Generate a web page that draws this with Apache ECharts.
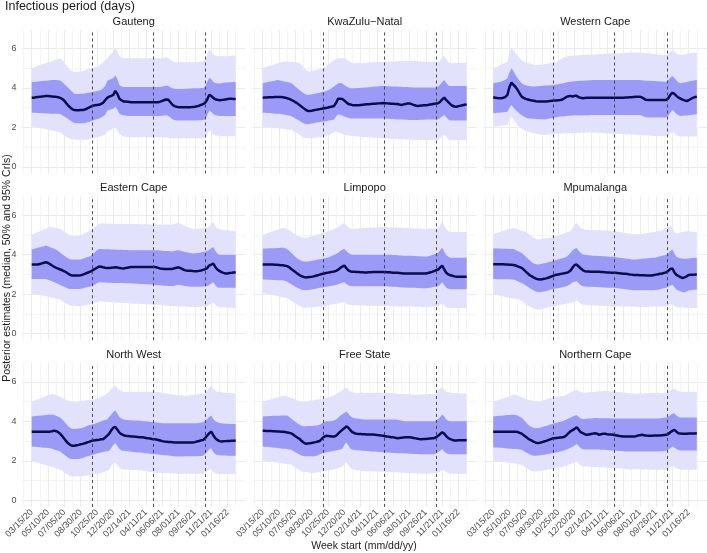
<!DOCTYPE html>
<html>
<head>
<meta charset="utf-8">
<title>Infectious period (days)</title>
<script src="https://cdn.jsdelivr.net/npm/echarts@6/dist/echarts.min.js"></script>
<style>
  html, body { margin: 0; padding: 0; background: #ffffff; }
  #chart { width: 707px; height: 553px; }
</style>
</head>
<body>
<div id="chart"></div>
<script>
// weekly estimates, week 0 = 03/15/20
const weekTicks = [0, 8, 16, 24, 32, 40, 48, 56, 64, 72, 80, 88, 96];
const tickLabels = ['03/15/20', '05/10/20', '07/05/20', '08/30/20', '10/25/20', '12/20/20', '02/14/21',
    '04/11/21', '06/06/21', '08/01/21', '09/26/21', '11/21/21', '01/16/22'];
const weekMinor = [-4, 4, 12, 20, 28, 36, 44, 52, 60, 68, 76, 84, 92, 100];
const waveBreaks = [29.7, 59.5, 85.3];
const yTicks = [0, 2, 4, 6];
const yMinor = [1, 3, 5];

// Gauteng
const gauMed = [3.50,3.51,3.53,3.54,3.55,3.57,3.58,3.60,3.59,3.58,
    3.57,3.56,3.55,3.53,3.50,3.44,3.35,3.22,3.10,3.00,
    2.92,2.88,2.87,2.87,2.88,2.88,2.91,2.95,3.00,3.05,
    3.10,3.12,3.14,3.15,3.20,3.25,3.38,3.50,3.56,3.60,
    3.65,3.85,3.70,3.45,3.38,3.32,3.31,3.30,3.29,3.28,
    3.28,3.28,3.28,3.28,3.28,3.28,3.28,3.28,3.28,3.28,
    3.28,3.28,3.28,3.31,3.35,3.39,3.42,3.40,3.28,3.15,
    3.08,3.05,3.03,3.03,3.03,3.03,3.03,3.03,3.03,3.04,
    3.05,3.07,3.10,3.14,3.18,3.25,3.40,3.65,3.60,3.50,
    3.43,3.40,3.38,3.39,3.40,3.42,3.44,3.45,3.45,3.44,
    3.44];
const gauHi50 = [4.30,4.31,4.32,4.33,4.34,4.35,4.36,4.37,4.38,4.39,
    4.40,4.40,4.40,4.39,4.38,4.30,4.20,4.10,4.00,3.90,
    3.80,3.70,3.70,3.70,3.71,3.71,3.72,3.74,3.76,3.78,
    3.80,3.82,3.85,3.87,3.90,3.98,4.10,4.35,4.42,4.46,
    4.50,4.65,4.45,4.15,4.08,4.05,4.05,4.05,4.05,4.05,
    4.05,4.05,4.05,4.05,4.05,4.05,4.05,4.05,4.05,4.05,
    4.05,4.05,4.05,4.05,4.07,4.10,4.12,4.10,4.04,3.98,
    3.96,3.95,3.95,3.95,3.95,3.96,3.96,3.97,3.97,3.98,
    3.98,3.99,3.99,4.00,4.00,4.05,4.30,4.50,4.45,4.30,
    4.25,4.23,4.22,4.24,4.26,4.28,4.28,4.29,4.29,4.30,
    4.30];
const gauLo50 = [2.75,2.74,2.74,2.73,2.73,2.72,2.72,2.71,2.71,2.70,
    2.70,2.70,2.69,2.69,2.68,2.62,2.55,2.48,2.42,2.35,
    2.28,2.22,2.22,2.22,2.22,2.22,2.22,2.25,2.28,2.31,
    2.35,2.39,2.42,2.46,2.50,2.57,2.65,2.85,2.88,2.92,
    2.95,3.05,2.90,2.70,2.65,2.62,2.60,2.58,2.58,2.58,
    2.58,2.58,2.58,2.58,2.58,2.58,2.58,2.58,2.58,2.58,
    2.58,2.58,2.58,2.58,2.59,2.60,2.62,2.58,2.50,2.42,
    2.38,2.35,2.35,2.35,2.35,2.35,2.35,2.35,2.35,2.35,
    2.35,2.35,2.36,2.37,2.38,2.42,2.60,2.85,2.80,2.68,
    2.62,2.60,2.58,2.58,2.58,2.58,2.58,2.58,2.58,2.58,
    2.58];
const gauHi95 = [5.00,5.04,5.08,5.12,5.16,5.20,5.23,5.26,5.29,5.32,
    5.35,5.39,5.43,5.47,5.50,5.42,5.30,5.15,5.02,4.90,
    4.85,4.80,4.81,4.82,4.84,4.85,4.89,4.93,4.96,5.00,
    5.02,5.05,5.08,5.10,5.20,5.30,5.40,5.50,5.62,5.74,
    5.85,6.05,5.85,5.60,5.55,5.50,5.50,5.50,5.50,5.50,
    5.50,5.50,5.50,5.50,5.50,5.50,5.50,5.50,5.50,5.50,
    5.50,5.50,5.50,5.50,5.52,5.54,5.55,5.50,5.42,5.35,
    5.32,5.30,5.30,5.30,5.30,5.30,5.30,5.30,5.30,5.30,
    5.30,5.31,5.32,5.33,5.35,5.40,5.70,5.95,5.85,5.70,
    5.65,5.60,5.60,5.60,5.60,5.60,5.61,5.62,5.63,5.64,
    5.65];
const gauLo95 = [2.05,2.03,2.01,1.99,1.97,1.95,1.93,1.91,1.89,1.87,
    1.85,1.83,1.80,1.78,1.75,1.68,1.60,1.53,1.47,1.42,
    1.40,1.38,1.38,1.38,1.38,1.38,1.38,1.38,1.40,1.43,
    1.45,1.47,1.50,1.52,1.55,1.60,1.65,1.80,1.85,1.90,
    1.95,2.00,1.85,1.68,1.60,1.55,1.52,1.50,1.50,1.50,
    1.50,1.50,1.50,1.50,1.50,1.50,1.50,1.50,1.50,1.50,
    1.50,1.50,1.50,1.50,1.50,1.50,1.50,1.48,1.46,1.45,
    1.45,1.45,1.45,1.45,1.45,1.45,1.45,1.45,1.45,1.45,
    1.45,1.45,1.45,1.45,1.45,1.50,1.65,1.85,1.80,1.65,
    1.60,1.58,1.57,1.56,1.56,1.55,1.55,1.55,1.55,1.55,
    1.55];

// KwaZulu-Natal
const kznMed = [3.51,3.52,3.52,3.53,3.53,3.53,3.54,3.54,3.54,3.54,
    3.53,3.51,3.48,3.45,3.40,3.35,3.28,3.22,3.14,3.06,
    2.98,2.90,2.84,2.84,2.85,2.87,2.89,2.91,2.93,2.95,
    2.97,2.99,3.01,3.04,3.06,3.09,3.25,3.46,3.46,3.44,
    3.36,3.28,3.19,3.16,3.13,3.12,3.12,3.13,3.14,3.15,
    3.16,3.17,3.18,3.19,3.20,3.20,3.21,3.22,3.23,3.24,
    3.23,3.22,3.21,3.20,3.20,3.19,3.19,3.16,3.14,3.17,
    3.19,3.21,3.22,3.18,3.14,3.11,3.09,3.10,3.11,3.12,
    3.13,3.14,3.16,3.18,3.20,3.21,3.23,3.30,3.42,3.51,
    3.38,3.28,3.18,3.10,3.06,3.05,3.08,3.10,3.13,3.15,
    3.17];
const kznHi50 = [4.24,4.27,4.29,4.31,4.33,4.35,4.37,4.40,4.39,4.37,
    4.34,4.32,4.30,4.28,4.25,4.18,4.08,3.98,3.90,3.82,
    3.75,3.68,3.65,3.66,3.68,3.70,3.72,3.74,3.76,3.79,
    3.81,3.84,3.88,3.93,4.00,4.08,4.16,4.23,4.27,4.22,
    4.15,4.08,4.02,3.98,3.99,3.99,4.00,4.00,4.01,4.01,
    4.02,4.03,4.04,4.05,4.06,4.07,4.08,4.09,4.10,4.10,
    4.10,4.09,4.09,4.08,4.08,4.07,4.07,4.06,4.06,4.05,
    4.05,4.05,4.04,4.04,4.03,4.03,4.03,4.03,4.03,4.03,
    4.03,4.03,4.03,4.03,4.03,4.03,4.08,4.18,4.30,4.40,
    4.25,4.12,4.10,4.10,4.10,4.10,4.10,4.10,4.10,4.10,
    4.10];
const kznLo50 = [2.75,2.74,2.73,2.73,2.72,2.71,2.70,2.70,2.69,2.68,
    2.66,2.64,2.62,2.60,2.57,2.52,2.46,2.40,2.34,2.28,
    2.22,2.18,2.16,2.18,2.20,2.22,2.24,2.26,2.27,2.29,
    2.30,2.32,2.34,2.36,2.38,2.41,2.55,2.67,2.64,2.60,
    2.56,2.52,2.49,2.46,2.46,2.46,2.46,2.46,2.46,2.46,
    2.46,2.46,2.46,2.45,2.45,2.45,2.45,2.45,2.45,2.45,
    2.45,2.44,2.44,2.43,2.43,2.42,2.41,2.41,2.40,2.40,
    2.39,2.39,2.38,2.38,2.38,2.38,2.38,2.39,2.39,2.39,
    2.40,2.40,2.40,2.40,2.41,2.41,2.42,2.48,2.56,2.63,
    2.50,2.40,2.35,2.35,2.35,2.35,2.35,2.35,2.35,2.35,
    2.35];
const kznHi95 = [5.00,5.04,5.08,5.11,5.15,5.18,5.21,5.24,5.27,5.30,
    5.33,5.33,5.33,5.33,5.32,5.31,5.30,5.29,5.27,5.18,
    5.05,4.92,4.85,4.84,4.86,4.89,4.91,4.94,4.97,5.00,
    5.03,5.10,5.18,5.26,5.34,5.42,5.48,5.50,5.50,5.50,
    5.50,5.45,5.38,5.32,5.27,5.25,5.26,5.26,5.27,5.27,
    5.28,5.28,5.29,5.29,5.30,5.30,5.31,5.31,5.32,5.33,
    5.33,5.33,5.34,5.34,5.34,5.35,5.35,5.35,5.36,5.36,
    5.36,5.37,5.37,5.37,5.36,5.36,5.35,5.35,5.34,5.34,
    5.33,5.33,5.32,5.32,5.31,5.31,5.30,5.40,5.52,5.62,
    5.45,5.30,5.25,5.25,5.26,5.26,5.27,5.27,5.28,5.28,
    5.28];
const kznLo95 = [2.04,2.03,2.02,2.01,2.00,1.99,1.97,1.96,1.95,1.94,
    1.93,1.92,1.90,1.89,1.87,1.82,1.76,1.70,1.63,1.56,
    1.50,1.47,1.45,1.46,1.47,1.48,1.49,1.50,1.51,1.52,
    1.54,1.57,1.61,1.65,1.70,1.75,1.79,1.76,1.72,1.67,
    1.63,1.61,1.59,1.58,1.57,1.56,1.54,1.54,1.53,1.52,
    1.52,1.51,1.50,1.50,1.49,1.48,1.48,1.47,1.46,1.45,
    1.45,1.44,1.44,1.43,1.42,1.42,1.41,1.41,1.40,1.40,
    1.39,1.39,1.38,1.38,1.37,1.37,1.37,1.37,1.37,1.37,
    1.37,1.37,1.37,1.37,1.37,1.37,1.38,1.45,1.55,1.62,
    1.50,1.40,1.37,1.37,1.37,1.37,1.37,1.37,1.37,1.37,
    1.37];

// Western Cape
const wcMed = [3.53,3.51,3.49,3.48,3.48,3.50,3.55,3.65,4.05,4.27,
    4.15,4.05,3.90,3.72,3.56,3.50,3.45,3.42,3.39,3.37,
    3.35,3.33,3.32,3.31,3.31,3.31,3.32,3.33,3.34,3.35,
    3.36,3.37,3.38,3.39,3.42,3.48,3.55,3.58,3.60,3.56,
    3.60,3.60,3.53,3.50,3.48,3.49,3.50,3.50,3.51,3.51,
    3.51,3.51,3.51,3.51,3.51,3.51,3.51,3.51,3.51,3.51,
    3.51,3.51,3.51,3.51,3.51,3.52,3.52,3.53,3.53,3.54,
    3.55,3.55,3.56,3.52,3.46,3.40,3.39,3.39,3.39,3.39,
    3.39,3.39,3.39,3.39,3.39,3.39,3.48,3.65,3.76,3.70,
    3.60,3.51,3.46,3.41,3.37,3.34,3.38,3.44,3.50,3.54,
    3.56];
const wcHi50 = [4.24,4.26,4.28,4.30,4.33,4.37,4.42,4.49,4.80,5.00,
    4.85,4.66,4.50,4.35,4.24,4.18,4.14,4.11,4.09,4.08,
    4.07,4.08,4.09,4.10,4.11,4.12,4.13,4.13,4.14,4.14,
    4.15,4.17,4.19,4.21,4.23,4.25,4.28,4.30,4.32,4.33,
    4.34,4.35,4.36,4.36,4.37,4.38,4.38,4.39,4.39,4.40,
    4.40,4.40,4.40,4.40,4.40,4.40,4.40,4.40,4.40,4.40,
    4.40,4.40,4.40,4.40,4.40,4.40,4.40,4.40,4.40,4.40,
    4.40,4.40,4.40,4.39,4.38,4.37,4.36,4.36,4.35,4.35,
    4.34,4.34,4.33,4.33,4.32,4.32,4.40,4.52,4.61,4.50,
    4.38,4.28,4.24,4.26,4.28,4.30,4.33,4.35,4.37,4.39,
    4.40];
const wcLo50 = [2.72,2.73,2.74,2.75,2.76,2.77,2.78,2.80,3.00,3.14,
    3.00,2.88,2.80,2.70,2.62,2.55,2.50,2.46,2.45,2.44,
    2.44,2.43,2.43,2.42,2.42,2.41,2.42,2.44,2.46,2.48,
    2.50,2.52,2.54,2.55,2.56,2.57,2.58,2.59,2.59,2.60,
    2.60,2.60,2.61,2.61,2.61,2.62,2.62,2.62,2.63,2.63,
    2.63,2.63,2.63,2.63,2.63,2.63,2.63,2.63,2.63,2.63,
    2.63,2.63,2.63,2.63,2.63,2.63,2.63,2.63,2.63,2.63,
    2.63,2.63,2.63,2.60,2.56,2.52,2.51,2.51,2.51,2.51,
    2.51,2.51,2.51,2.51,2.51,2.51,2.60,2.75,2.89,2.80,
    2.68,2.62,2.58,2.59,2.60,2.61,2.62,2.63,2.65,2.66,
    2.67];
const wcHi95 = [5.00,5.04,5.09,5.14,5.19,5.24,5.28,5.33,5.75,6.04,
    5.90,5.76,5.62,5.50,5.40,5.33,5.30,5.27,5.24,5.21,
    5.18,5.16,5.16,5.17,5.19,5.20,5.22,5.24,5.25,5.27,
    5.28,5.33,5.38,5.44,5.50,5.55,5.59,5.61,5.62,5.63,
    5.64,5.65,5.66,5.67,5.67,5.68,5.68,5.69,5.69,5.70,
    5.70,5.71,5.71,5.72,5.72,5.73,5.73,5.74,5.74,5.75,
    5.75,5.76,5.76,5.77,5.77,5.78,5.78,5.78,5.79,5.79,
    5.79,5.79,5.79,5.78,5.77,5.76,5.75,5.74,5.73,5.72,
    5.71,5.70,5.69,5.68,5.67,5.67,5.75,5.85,5.92,5.85,
    5.75,5.70,5.67,5.68,5.70,5.72,5.74,5.76,5.77,5.78,
    5.79];
const wcLo95 = [2.04,2.05,2.06,2.08,2.09,2.10,2.11,2.13,2.40,2.55,
    2.40,2.25,2.13,2.02,1.95,1.88,1.82,1.79,1.76,1.73,
    1.71,1.69,1.67,1.65,1.64,1.62,1.63,1.64,1.65,1.66,
    1.67,1.68,1.69,1.70,1.70,1.71,1.71,1.71,1.72,1.72,
    1.72,1.72,1.73,1.73,1.73,1.73,1.74,1.74,1.74,1.74,
    1.74,1.73,1.73,1.72,1.71,1.71,1.70,1.69,1.69,1.68,
    1.68,1.67,1.67,1.66,1.66,1.65,1.65,1.64,1.64,1.63,
    1.63,1.62,1.62,1.61,1.60,1.60,1.59,1.58,1.58,1.57,
    1.57,1.56,1.56,1.55,1.55,1.54,1.58,1.70,1.79,1.70,
    1.62,1.56,1.54,1.54,1.54,1.54,1.54,1.54,1.54,1.54,
    1.54];

// Eastern Cape
const ecMed = [3.50,3.50,3.50,3.50,3.53,3.56,3.59,3.62,3.58,3.52,
    3.45,3.39,3.33,3.29,3.25,3.21,3.16,3.10,3.03,2.97,
    2.94,2.94,2.94,2.94,2.96,2.99,3.03,3.07,3.11,3.15,
    3.22,3.28,3.34,3.40,3.39,3.36,3.34,3.33,3.33,3.34,
    3.35,3.36,3.35,3.33,3.31,3.30,3.32,3.34,3.36,3.37,
    3.38,3.38,3.38,3.38,3.38,3.38,3.38,3.38,3.38,3.38,
    3.38,3.36,3.33,3.30,3.29,3.28,3.28,3.28,3.28,3.28,
    3.31,3.34,3.36,3.32,3.26,3.22,3.19,3.18,3.18,3.17,
    3.16,3.16,3.18,3.20,3.23,3.26,3.32,3.45,3.50,3.55,
    3.38,3.25,3.18,3.12,3.08,3.05,3.05,3.07,3.08,3.10,
    3.11];
const ecHi50 = [4.26,4.29,4.32,4.35,4.37,4.40,4.43,4.46,4.43,4.38,
    4.34,4.30,4.26,4.18,4.10,4.02,3.95,3.87,3.80,3.75,
    3.75,3.75,3.75,3.75,3.76,3.79,3.83,3.87,3.90,3.94,
    4.02,4.12,4.22,4.29,4.29,4.28,4.28,4.27,4.27,4.26,
    4.26,4.26,4.25,4.25,4.25,4.24,4.24,4.24,4.23,4.23,
    4.23,4.23,4.23,4.23,4.23,4.23,4.23,4.23,4.23,4.23,
    4.23,4.22,4.22,4.21,4.20,4.19,4.19,4.18,4.17,4.16,
    4.18,4.21,4.23,4.20,4.17,4.14,4.12,4.10,4.08,4.06,
    4.07,4.08,4.09,4.11,4.13,4.15,4.18,4.25,4.32,4.39,
    4.20,4.05,4.00,4.00,4.00,4.00,4.00,4.00,4.00,4.00,
    4.00];
const ecLo50 = [2.77,2.77,2.77,2.77,2.77,2.77,2.77,2.77,2.73,2.69,
    2.65,2.61,2.57,2.52,2.47,2.42,2.37,2.32,2.28,2.26,
    2.26,2.26,2.26,2.26,2.27,2.29,2.32,2.35,2.37,2.39,
    2.43,2.49,2.55,2.60,2.60,2.59,2.59,2.58,2.58,2.58,
    2.57,2.57,2.57,2.56,2.56,2.56,2.55,2.55,2.55,2.54,
    2.54,2.53,2.53,2.52,2.51,2.51,2.50,2.50,2.49,2.49,
    2.48,2.47,2.46,2.45,2.44,2.43,2.43,2.42,2.41,2.40,
    2.43,2.46,2.48,2.46,2.44,2.42,2.40,2.39,2.38,2.37,
    2.37,2.37,2.38,2.38,2.39,2.39,2.41,2.47,2.54,2.60,
    2.45,2.35,2.32,2.32,2.32,2.32,2.32,2.32,2.32,2.32,
    2.32];
const ecHi95 = [5.02,5.06,5.11,5.15,5.19,5.24,5.28,5.32,5.37,5.41,
    5.39,5.37,5.35,5.33,5.31,5.24,5.17,5.10,5.03,4.98,
    4.97,4.97,4.97,4.97,4.99,5.04,5.09,5.15,5.20,5.25,
    5.32,5.40,5.48,5.56,5.58,5.58,5.58,5.57,5.57,5.57,
    5.57,5.57,5.56,5.56,5.56,5.56,5.56,5.55,5.55,5.55,
    5.55,5.55,5.55,5.54,5.54,5.54,5.54,5.54,5.53,5.53,
    5.53,5.53,5.53,5.53,5.53,5.53,5.53,5.53,5.53,5.53,
    5.56,5.59,5.61,5.56,5.51,5.46,5.41,5.37,5.34,5.31,
    5.31,5.32,5.32,5.33,5.34,5.35,5.37,5.45,5.55,5.64,
    5.45,5.32,5.27,5.26,5.25,5.24,5.23,5.22,5.21,5.20,
    5.19];
const ecLo95 = [2.03,2.01,1.99,1.97,1.95,1.93,1.92,1.90,1.88,1.86,
    1.83,1.81,1.78,1.75,1.72,1.66,1.59,1.52,1.46,1.42,
    1.41,1.41,1.40,1.40,1.39,1.41,1.44,1.46,1.48,1.51,
    1.54,1.57,1.60,1.63,1.64,1.63,1.62,1.61,1.60,1.59,
    1.58,1.57,1.57,1.56,1.56,1.55,1.55,1.54,1.53,1.53,
    1.52,1.52,1.51,1.51,1.50,1.50,1.49,1.49,1.48,1.48,
    1.47,1.46,1.45,1.45,1.44,1.43,1.42,1.41,1.40,1.39,
    1.39,1.39,1.38,1.38,1.37,1.37,1.36,1.36,1.35,1.35,
    1.35,1.35,1.36,1.36,1.37,1.38,1.40,1.46,1.53,1.59,
    1.45,1.37,1.35,1.34,1.34,1.33,1.32,1.31,1.31,1.30,
    1.30];

// Limpopo
const limMed = [3.50,3.50,3.50,3.50,3.50,3.50,3.49,3.49,3.48,3.47,
    3.46,3.44,3.42,3.36,3.28,3.20,3.12,3.04,2.97,2.92,
    2.87,2.85,2.86,2.87,2.88,2.90,2.93,2.96,2.99,3.02,
    3.05,3.07,3.09,3.11,3.13,3.15,3.18,3.24,3.32,3.40,
    3.45,3.32,3.20,3.15,3.14,3.13,3.12,3.12,3.11,3.11,
    3.10,3.10,3.11,3.11,3.12,3.12,3.12,3.12,3.12,3.12,
    3.12,3.11,3.11,3.10,3.09,3.08,3.08,3.07,3.06,3.05,
    3.05,3.05,3.05,3.05,3.05,3.05,3.05,3.05,3.05,3.05,
    3.05,3.07,3.10,3.13,3.17,3.21,3.25,3.35,3.45,3.25,
    3.08,3.00,2.96,2.93,2.90,2.88,2.88,2.88,2.88,2.88,
    2.88];
const limHi50 = [4.30,4.31,4.31,4.32,4.32,4.33,4.33,4.34,4.34,4.35,
    4.35,4.32,4.28,4.20,4.10,4.00,3.90,3.81,3.74,3.69,
    3.66,3.65,3.66,3.67,3.69,3.71,3.73,3.75,3.77,3.78,
    3.80,3.83,3.86,3.90,3.94,3.98,4.04,4.10,4.18,4.25,
    4.30,4.18,4.08,4.02,4.00,4.00,4.00,4.00,4.00,4.00,
    4.00,4.00,4.00,4.00,4.00,4.00,4.00,4.00,4.00,4.00,
    4.00,4.00,3.99,3.99,3.98,3.98,3.97,3.96,3.96,3.95,
    3.95,3.95,3.94,3.94,3.93,3.93,3.92,3.92,3.91,3.91,
    3.90,3.92,3.95,3.98,4.02,4.06,4.10,4.22,4.35,4.15,
    3.98,3.90,3.85,3.85,3.85,3.85,3.85,3.85,3.85,3.85,
    3.85];
const limLo50 = [2.75,2.74,2.74,2.73,2.73,2.72,2.72,2.71,2.71,2.70,
    2.70,2.67,2.63,2.57,2.50,2.44,2.38,2.32,2.27,2.23,
    2.21,2.20,2.21,2.22,2.24,2.26,2.28,2.30,2.32,2.33,
    2.35,2.37,2.39,2.41,2.43,2.45,2.47,2.50,2.55,2.58,
    2.60,2.52,2.45,2.41,2.40,2.40,2.40,2.40,2.40,2.40,
    2.40,2.40,2.40,2.40,2.40,2.40,2.40,2.40,2.40,2.40,
    2.40,2.40,2.39,2.38,2.38,2.37,2.36,2.35,2.35,2.34,
    2.34,2.33,2.33,2.32,2.32,2.32,2.31,2.31,2.30,2.30,
    2.30,2.31,2.33,2.35,2.37,2.38,2.40,2.50,2.60,2.45,
    2.33,2.27,2.25,2.25,2.25,2.25,2.25,2.25,2.25,2.25,
    2.25];
const limHi95 = [5.00,5.04,5.08,5.11,5.15,5.18,5.22,5.26,5.29,5.32,
    5.35,5.33,5.30,5.24,5.17,5.10,5.03,4.97,4.92,4.88,
    4.86,4.85,4.87,4.90,4.93,4.96,4.99,5.02,5.05,5.08,
    5.10,5.14,5.18,5.22,5.26,5.30,5.35,5.41,5.48,5.55,
    5.60,5.48,5.38,5.32,5.30,5.31,5.32,5.33,5.34,5.35,
    5.35,5.36,5.36,5.37,5.37,5.38,5.38,5.39,5.39,5.40,
    5.40,5.40,5.39,5.39,5.38,5.38,5.37,5.37,5.36,5.36,
    5.35,5.35,5.34,5.34,5.33,5.33,5.32,5.32,5.31,5.31,
    5.30,5.31,5.32,5.33,5.33,5.34,5.35,5.52,5.70,5.45,
    5.28,5.20,5.15,5.15,5.15,5.15,5.15,5.15,5.15,5.15,
    5.15];
const limLo95 = [2.05,2.03,2.01,1.99,1.97,1.95,1.93,1.91,1.88,1.86,
    1.84,1.82,1.80,1.73,1.66,1.59,1.52,1.46,1.40,1.35,
    1.32,1.30,1.31,1.32,1.33,1.34,1.35,1.36,1.37,1.38,
    1.40,1.42,1.44,1.46,1.48,1.50,1.52,1.54,1.56,1.58,
    1.60,1.52,1.47,1.45,1.45,1.44,1.44,1.44,1.43,1.43,
    1.43,1.42,1.42,1.42,1.42,1.41,1.41,1.41,1.40,1.40,
    1.40,1.40,1.40,1.39,1.39,1.39,1.38,1.38,1.38,1.38,
    1.37,1.37,1.37,1.37,1.36,1.36,1.36,1.36,1.35,1.35,
    1.35,1.35,1.36,1.36,1.37,1.37,1.38,1.46,1.55,1.42,
    1.34,1.31,1.30,1.30,1.30,1.30,1.30,1.30,1.30,1.30,
    1.30];

// Mpumalanga
const mpuMed = [3.52,3.52,3.52,3.51,3.51,3.51,3.50,3.50,3.49,3.49,
    3.48,3.45,3.41,3.37,3.33,3.24,3.14,3.05,2.96,2.90,
    2.84,2.79,2.75,2.74,2.76,2.78,2.80,2.83,2.87,2.91,
    2.95,2.98,3.00,3.02,3.04,3.06,3.08,3.12,3.20,3.35,
    3.48,3.50,3.40,3.30,3.22,3.16,3.15,3.15,3.14,3.14,
    3.14,3.13,3.13,3.12,3.12,3.11,3.10,3.10,3.09,3.08,
    3.08,3.07,3.06,3.05,3.04,3.03,3.02,3.00,2.99,2.97,
    2.97,2.97,2.96,2.96,2.96,2.95,2.95,2.94,2.95,2.97,
    2.99,3.01,3.03,3.05,3.08,3.11,3.18,3.28,3.30,3.10,
    2.98,2.92,2.86,2.82,2.85,2.90,2.97,2.98,2.98,2.99,
    2.99];
const mpuHi50 = [4.31,4.31,4.31,4.31,4.30,4.30,4.30,4.30,4.29,4.29,
    4.29,4.24,4.19,4.14,4.09,4.00,3.90,3.80,3.70,3.61,
    3.55,3.51,3.50,3.52,3.54,3.56,3.58,3.61,3.64,3.67,
    3.70,3.73,3.76,3.79,3.82,3.85,3.89,3.98,4.10,4.22,
    4.30,4.34,4.20,4.08,4.01,3.99,3.98,3.97,3.96,3.95,
    3.94,3.94,3.93,3.93,3.92,3.92,3.91,3.90,3.90,3.89,
    3.88,3.86,3.85,3.83,3.82,3.80,3.79,3.78,3.76,3.75,
    3.76,3.77,3.78,3.79,3.80,3.81,3.82,3.83,3.84,3.84,
    3.86,3.89,3.92,3.95,3.97,4.00,4.08,4.18,4.26,4.05,
    3.89,3.85,3.82,3.80,3.79,3.80,3.81,3.82,3.83,3.84,
    3.84];
const mpuLo50 = [2.77,2.77,2.76,2.76,2.76,2.76,2.75,2.75,2.75,2.74,
    2.74,2.70,2.66,2.61,2.57,2.51,2.44,2.37,2.30,2.24,
    2.18,2.13,2.11,2.10,2.12,2.14,2.16,2.19,2.23,2.25,
    2.27,2.29,2.31,2.33,2.35,2.37,2.40,2.45,2.52,2.60,
    2.63,2.65,2.55,2.45,2.40,2.39,2.38,2.38,2.37,2.37,
    2.36,2.36,2.35,2.35,2.34,2.34,2.33,2.33,2.32,2.32,
    2.31,2.30,2.29,2.28,2.26,2.25,2.24,2.23,2.21,2.20,
    2.20,2.20,2.20,2.20,2.20,2.20,2.20,2.20,2.20,2.20,
    2.21,2.23,2.25,2.27,2.30,2.32,2.38,2.44,2.48,2.35,
    2.23,2.18,2.13,2.11,2.10,2.14,2.18,2.20,2.22,2.23,
    2.23];
const mpuHi95 = [5.05,5.08,5.11,5.14,5.17,5.21,5.24,5.27,5.30,5.33,
    5.36,5.33,5.29,5.25,5.21,5.18,5.15,5.08,5.00,4.92,
    4.86,4.80,4.77,4.78,4.80,4.82,4.83,4.84,4.85,4.88,
    4.92,4.95,4.98,5.02,5.05,5.09,5.12,5.16,5.19,5.35,
    5.50,5.61,5.48,5.35,5.30,5.27,5.26,5.26,5.25,5.25,
    5.24,5.24,5.23,5.23,5.22,5.22,5.21,5.21,5.20,5.19,
    5.18,5.17,5.15,5.14,5.12,5.10,5.09,5.07,5.05,5.04,
    5.03,5.03,5.04,5.06,5.07,5.09,5.10,5.12,5.13,5.15,
    5.16,5.18,5.19,5.24,5.30,5.36,5.42,5.48,5.35,5.15,
    5.07,5.09,5.12,5.15,5.17,5.19,5.18,5.17,5.16,5.15,
    5.15];
const mpuLo95 = [1.98,1.96,1.94,1.92,1.90,1.88,1.86,1.84,1.82,1.80,
    1.78,1.76,1.74,1.72,1.66,1.58,1.50,1.43,1.37,1.31,
    1.27,1.24,1.22,1.23,1.25,1.28,1.31,1.33,1.36,1.38,
    1.40,1.42,1.44,1.46,1.48,1.50,1.52,1.54,1.56,1.59,
    1.64,1.69,1.60,1.52,1.47,1.46,1.45,1.44,1.44,1.43,
    1.43,1.42,1.42,1.41,1.41,1.40,1.40,1.40,1.39,1.39,
    1.39,1.39,1.38,1.38,1.38,1.38,1.37,1.37,1.37,1.36,
    1.36,1.36,1.35,1.35,1.35,1.35,1.36,1.36,1.37,1.37,
    1.37,1.38,1.38,1.38,1.39,1.39,1.43,1.48,1.52,1.40,
    1.35,1.33,1.32,1.32,1.31,1.31,1.31,1.30,1.30,1.30,
    1.30];

// North West
const nwMed = [3.48,3.48,3.48,3.48,3.48,3.48,3.48,3.48,3.48,3.48,
    3.50,3.53,3.50,3.45,3.37,3.25,3.12,2.98,2.88,2.80,
    2.76,2.77,2.79,2.81,2.84,2.86,2.89,2.93,2.96,3.00,
    3.03,3.04,3.06,3.07,3.09,3.10,3.18,3.28,3.38,3.55,
    3.68,3.72,3.58,3.43,3.35,3.30,3.27,3.26,3.25,3.24,
    3.23,3.22,3.21,3.20,3.19,3.18,3.16,3.14,3.13,3.11,
    3.10,3.08,3.06,3.03,3.00,2.98,2.97,2.96,2.95,2.94,
    2.93,2.93,2.93,2.93,2.93,2.93,2.93,2.93,2.93,2.93,
    2.95,2.98,3.01,3.04,3.06,3.15,3.28,3.40,3.48,3.30,
    3.15,3.06,3.00,2.98,2.99,3.00,3.01,3.01,3.02,3.02,
    3.03];
const nwHi50 = [4.25,4.26,4.27,4.28,4.29,4.30,4.31,4.32,4.33,4.34,
    4.35,4.32,4.28,4.24,4.20,4.10,3.98,3.85,3.74,3.66,
    3.62,3.62,3.63,3.64,3.65,3.68,3.72,3.76,3.80,3.83,
    3.85,3.88,3.92,3.96,4.00,4.04,4.07,4.10,4.22,4.35,
    4.48,4.55,4.38,4.22,4.15,4.10,4.08,4.07,4.06,4.06,
    4.05,4.05,4.04,4.03,4.02,4.01,4.00,3.99,3.98,3.97,
    3.95,3.94,3.93,3.92,3.91,3.90,3.90,3.90,3.90,3.90,
    3.90,3.90,3.90,3.90,3.90,3.90,3.90,3.90,3.90,3.90,
    3.90,3.91,3.92,3.94,3.96,4.02,4.12,4.22,4.30,4.12,
    4.00,3.95,3.92,3.90,3.89,3.88,3.88,3.87,3.87,3.87,
    3.87];
const nwLo50 = [2.73,2.72,2.71,2.70,2.69,2.68,2.67,2.66,2.65,2.64,
    2.61,2.58,2.54,2.51,2.47,2.39,2.31,2.23,2.15,2.09,
    2.09,2.09,2.09,2.09,2.12,2.15,2.18,2.22,2.25,2.28,
    2.31,2.34,2.37,2.40,2.43,2.45,2.47,2.49,2.51,2.65,
    2.80,2.90,2.75,2.60,2.53,2.51,2.50,2.49,2.47,2.46,
    2.45,2.44,2.43,2.42,2.41,2.40,2.39,2.38,2.36,2.35,
    2.34,2.33,2.32,2.31,2.30,2.29,2.28,2.27,2.26,2.25,
    2.23,2.22,2.22,2.22,2.22,2.23,2.23,2.23,2.24,2.24,
    2.24,2.24,2.25,2.25,2.26,2.35,2.45,2.58,2.64,2.45,
    2.34,2.30,2.28,2.27,2.27,2.27,2.26,2.26,2.26,2.26,
    2.26];
const nwHi95 = [5.00,5.04,5.08,5.12,5.16,5.20,5.24,5.28,5.32,5.36,
    5.40,5.38,5.34,5.29,5.24,5.18,5.13,5.08,5.04,5.01,
    5.00,5.00,5.01,5.02,5.03,5.04,5.06,5.07,5.08,5.09,
    5.10,5.13,5.16,5.20,5.24,5.29,5.35,5.42,5.52,5.65,
    5.75,5.80,5.70,5.60,5.53,5.50,5.50,5.50,5.50,5.50,
    5.50,5.50,5.50,5.50,5.50,5.50,5.50,5.50,5.50,5.50,
    5.50,5.49,5.47,5.46,5.44,5.43,5.41,5.40,5.38,5.37,
    5.35,5.34,5.33,5.32,5.31,5.30,5.31,5.32,5.33,5.34,
    5.35,5.36,5.37,5.38,5.39,5.40,5.55,5.70,5.80,5.65,
    5.55,5.50,5.50,5.48,5.46,5.45,5.44,5.43,5.42,5.41,
    5.40];
const nwLo95 = [2.00,1.97,1.94,1.91,1.88,1.84,1.81,1.78,1.75,1.72,
    1.69,1.66,1.62,1.59,1.55,1.49,1.42,1.35,1.28,1.23,
    1.21,1.21,1.21,1.21,1.21,1.23,1.25,1.27,1.29,1.30,
    1.32,1.34,1.35,1.37,1.39,1.42,1.46,1.50,1.55,1.75,
    1.88,1.92,1.78,1.65,1.58,1.57,1.56,1.56,1.55,1.54,
    1.54,1.53,1.53,1.52,1.51,1.49,1.48,1.46,1.44,1.42,
    1.41,1.40,1.40,1.39,1.39,1.38,1.38,1.37,1.37,1.36,
    1.36,1.35,1.35,1.35,1.35,1.35,1.35,1.35,1.35,1.35,
    1.35,1.35,1.35,1.35,1.35,1.40,1.48,1.55,1.58,1.45,
    1.37,1.35,1.35,1.34,1.34,1.34,1.34,1.33,1.33,1.33,
    1.33];

// Free State
const fsMed = [3.52,3.52,3.51,3.51,3.51,3.50,3.50,3.49,3.49,3.48,
    3.47,3.46,3.44,3.42,3.39,3.33,3.25,3.18,3.12,3.02,
    2.93,2.87,2.88,2.89,2.91,2.93,2.95,2.98,3.01,3.12,
    3.22,3.27,3.26,3.25,3.24,3.23,3.28,3.38,3.48,3.57,
    3.65,3.75,3.68,3.55,3.45,3.40,3.37,3.36,3.36,3.35,
    3.35,3.34,3.34,3.33,3.33,3.32,3.31,3.30,3.28,3.27,
    3.25,3.23,3.22,3.20,3.19,3.17,3.15,3.16,3.17,3.18,
    3.19,3.20,3.20,3.18,3.16,3.14,3.12,3.10,3.10,3.11,
    3.11,3.12,3.13,3.14,3.15,3.20,3.27,3.36,3.45,3.38,
    3.25,3.15,3.10,3.06,3.03,3.03,3.04,3.04,3.05,3.05,
    3.06];
const fsHi50 = [4.25,4.26,4.26,4.27,4.27,4.28,4.28,4.29,4.29,4.30,
    4.30,4.30,4.30,4.22,4.14,4.06,3.98,3.90,3.83,3.78,
    3.75,3.75,3.76,3.76,3.77,3.78,3.79,3.80,3.83,3.90,
    3.96,4.00,4.00,4.00,4.02,4.05,4.10,4.18,4.28,4.36,
    4.43,4.50,4.40,4.26,4.20,4.16,4.14,4.13,4.12,4.11,
    4.10,4.10,4.10,4.10,4.10,4.10,4.10,4.10,4.10,4.10,
    4.10,4.10,4.10,4.10,4.10,4.10,4.08,4.06,4.04,4.02,
    4.00,4.00,4.00,4.00,4.00,4.00,4.00,4.00,4.00,4.00,
    4.00,4.00,4.00,4.00,4.00,4.05,4.12,4.22,4.35,4.25,
    4.10,4.02,4.00,4.00,4.00,4.00,4.00,4.00,4.00,4.00,
    4.00];
const fsLo50 = [2.73,2.72,2.71,2.70,2.69,2.68,2.67,2.66,2.64,2.63,
    2.62,2.61,2.60,2.58,2.56,2.50,2.44,2.38,2.32,2.27,
    2.25,2.24,2.24,2.23,2.23,2.22,2.25,2.29,2.33,2.37,
    2.41,2.43,2.45,2.47,2.49,2.51,2.53,2.55,2.57,2.60,
    2.80,2.93,2.78,2.62,2.56,2.55,2.54,2.53,2.52,2.51,
    2.51,2.50,2.49,2.48,2.47,2.47,2.46,2.45,2.45,2.44,
    2.43,2.43,2.42,2.41,2.40,2.40,2.39,2.39,2.38,2.38,
    2.37,2.37,2.36,2.36,2.35,2.35,2.35,2.34,2.34,2.34,
    2.34,2.34,2.34,2.34,2.34,2.38,2.44,2.52,2.59,2.48,
    2.38,2.35,2.34,2.34,2.34,2.34,2.34,2.34,2.34,2.34,
    2.34];
const fsHi95 = [5.00,5.03,5.06,5.09,5.12,5.15,5.18,5.21,5.24,5.27,
    5.30,5.29,5.26,5.22,5.18,5.14,5.10,5.06,5.03,5.01,
    5.00,5.01,5.03,5.04,5.06,5.07,5.09,5.10,5.12,5.13,
    5.15,5.18,5.21,5.24,5.28,5.32,5.37,5.43,5.50,5.58,
    5.65,5.70,5.60,5.50,5.46,5.45,5.45,5.45,5.45,5.45,
    5.45,5.45,5.45,5.45,5.45,5.45,5.45,5.45,5.45,5.45,
    5.45,5.44,5.43,5.43,5.42,5.41,5.40,5.39,5.39,5.38,
    5.37,5.37,5.36,5.36,5.35,5.35,5.35,5.36,5.36,5.37,
    5.37,5.38,5.38,5.39,5.39,5.40,5.52,5.65,5.75,5.60,
    5.50,5.47,5.45,5.44,5.43,5.42,5.42,5.41,5.41,5.40,
    5.40];
const fsLo95 = [2.02,2.00,1.99,1.97,1.96,1.94,1.93,1.91,1.90,1.88,
    1.87,1.85,1.84,1.82,1.80,1.73,1.66,1.59,1.52,1.47,
    1.45,1.43,1.42,1.40,1.39,1.38,1.40,1.42,1.44,1.46,
    1.47,1.49,1.51,1.52,1.55,1.58,1.61,1.64,1.68,1.72,
    1.82,1.92,1.78,1.63,1.58,1.55,1.52,1.51,1.50,1.49,
    1.49,1.48,1.48,1.47,1.46,1.46,1.46,1.45,1.45,1.45,
    1.44,1.44,1.44,1.43,1.43,1.42,1.41,1.41,1.40,1.40,
    1.39,1.39,1.38,1.38,1.37,1.37,1.36,1.36,1.36,1.35,
    1.35,1.35,1.36,1.36,1.37,1.37,1.40,1.48,1.56,1.50,
    1.42,1.37,1.35,1.35,1.35,1.35,1.35,1.35,1.35,1.35,
    1.35];

// Northern Cape
const ncMed = [3.48,3.48,3.48,3.48,3.48,3.48,3.48,3.48,3.48,3.48,
    3.48,3.48,3.46,3.42,3.38,3.30,3.22,3.14,3.07,3.02,
    2.96,2.92,2.90,2.92,2.95,2.98,3.01,3.05,3.09,3.13,
    3.15,3.16,3.17,3.18,3.19,3.22,3.30,3.40,3.50,3.56,
    3.62,3.70,3.58,3.45,3.40,3.35,3.32,3.34,3.36,3.38,
    3.40,3.38,3.32,3.35,3.37,3.37,3.35,3.34,3.33,3.32,
    3.30,3.28,3.26,3.25,3.23,3.23,3.23,3.23,3.23,3.23,
    3.25,3.28,3.30,3.32,3.30,3.28,3.27,3.27,3.27,3.28,
    3.28,3.29,3.29,3.30,3.31,3.32,3.36,3.45,3.52,3.57,
    3.48,3.40,3.38,3.37,3.37,3.37,3.38,3.38,3.39,3.39,
    3.40];
const ncHi50 = [4.25,4.26,4.27,4.28,4.29,4.30,4.31,4.32,4.32,4.33,
    4.33,4.33,4.30,4.24,4.18,4.08,3.97,3.86,3.77,3.70,
    3.66,3.65,3.66,3.68,3.71,3.74,3.77,3.80,3.84,3.87,
    3.90,3.93,3.95,3.98,4.00,4.04,4.09,4.14,4.20,4.25,
    4.28,4.32,4.22,4.15,4.12,4.12,4.13,4.14,4.15,4.16,
    4.17,4.17,4.16,4.16,4.16,4.16,4.16,4.16,4.15,4.15,
    4.15,4.15,4.15,4.15,4.15,4.15,4.15,4.15,4.15,4.15,
    4.15,4.15,4.15,4.15,4.15,4.15,4.15,4.15,4.15,4.15,
    4.15,4.15,4.16,4.17,4.18,4.20,4.25,4.32,4.38,4.40,
    4.30,4.22,4.20,4.20,4.20,4.20,4.20,4.20,4.20,4.20,
    4.20];
const ncLo50 = [2.69,2.68,2.68,2.67,2.66,2.65,2.64,2.63,2.62,2.61,
    2.60,2.60,2.59,2.58,2.56,2.50,2.44,2.38,2.32,2.28,
    2.26,2.26,2.27,2.28,2.30,2.31,2.33,2.35,2.37,2.39,
    2.41,2.43,2.45,2.47,2.50,2.54,2.58,2.62,2.67,2.71,
    2.78,2.86,2.75,2.64,2.59,2.58,2.58,2.58,2.57,2.57,
    2.57,2.57,2.57,2.56,2.56,2.56,2.55,2.54,2.53,2.52,
    2.52,2.51,2.50,2.50,2.49,2.48,2.47,2.47,2.47,2.47,
    2.47,2.47,2.47,2.47,2.47,2.47,2.47,2.47,2.47,2.47,
    2.48,2.48,2.49,2.49,2.50,2.51,2.56,2.64,2.73,2.68,
    2.60,2.55,2.53,2.53,2.53,2.53,2.53,2.53,2.53,2.53,
    2.53];
const ncHi95 = [5.00,5.03,5.07,5.10,5.14,5.17,5.21,5.24,5.28,5.31,
    5.35,5.33,5.30,5.26,5.22,5.18,5.14,5.10,5.07,5.06,
    5.05,5.02,5.00,5.02,5.05,5.08,5.11,5.14,5.17,5.20,
    5.22,5.24,5.26,5.28,5.29,5.30,5.35,5.40,5.46,5.52,
    5.56,5.60,5.55,5.49,5.46,5.45,5.46,5.47,5.48,5.49,
    5.50,5.51,5.52,5.53,5.54,5.55,5.54,5.53,5.52,5.51,
    5.50,5.49,5.48,5.47,5.46,5.45,5.44,5.43,5.42,5.41,
    5.40,5.40,5.41,5.41,5.42,5.42,5.42,5.43,5.43,5.43,
    5.44,5.44,5.44,5.44,5.45,5.45,5.50,5.56,5.62,5.65,
    5.58,5.52,5.50,5.50,5.50,5.50,5.50,5.50,5.50,5.50,
    5.50];
const ncLo95 = [2.02,2.00,1.99,1.97,1.96,1.94,1.93,1.91,1.90,1.88,
    1.87,1.85,1.84,1.82,1.80,1.73,1.66,1.59,1.53,1.48,
    1.46,1.46,1.47,1.48,1.50,1.52,1.54,1.56,1.58,1.60,
    1.62,1.64,1.66,1.68,1.70,1.73,1.76,1.80,1.84,1.88,
    1.92,1.97,1.85,1.76,1.72,1.71,1.71,1.70,1.70,1.69,
    1.69,1.69,1.68,1.68,1.68,1.67,1.66,1.65,1.64,1.63,
    1.62,1.62,1.61,1.61,1.60,1.59,1.58,1.58,1.58,1.57,
    1.57,1.57,1.56,1.56,1.56,1.56,1.56,1.55,1.55,1.55,
    1.55,1.55,1.55,1.55,1.55,1.55,1.60,1.68,1.75,1.70,
    1.62,1.57,1.55,1.55,1.55,1.55,1.55,1.55,1.55,1.55,
    1.55];

const panels = [
    { name: 'Gauteng', med: gauMed, lo50: gauLo50, hi50: gauHi50, lo95: gauLo95, hi95: gauHi95 },
    { name: 'KwaZulu\u2212Natal', med: kznMed, lo50: kznLo50, hi50: kznHi50, lo95: kznLo95, hi95: kznHi95 },
    { name: 'Western Cape', med: wcMed, lo50: wcLo50, hi50: wcHi50, lo95: wcLo95, hi95: wcHi95 },
    { name: 'Eastern Cape', med: ecMed, lo50: ecLo50, hi50: ecHi50, lo95: ecLo95, hi95: ecHi95 },
    { name: 'Limpopo', med: limMed, lo50: limLo50, hi50: limHi50, lo95: limLo95, hi95: limHi95 },
    { name: 'Mpumalanga', med: mpuMed, lo50: mpuLo50, hi50: mpuHi50, lo95: mpuLo95, hi95: mpuHi95 },
    { name: 'North West', med: nwMed, lo50: nwLo50, hi50: nwHi50, lo95: nwLo95, hi95: nwHi95 },
    { name: 'Free State', med: fsMed, lo50: fsLo50, hi50: fsHi50, lo95: fsLo95, hi95: fsHi95 },
    { name: 'Northern Cape', med: ncMed, lo50: ncLo50, hi50: ncHi50, lo95: ncLo95, hi95: ncHi95 }
];

var font = "'Liberation Sans', Arial, sans-serif";
var colLeft = [21.5, 252.5, 483];
var rowTop = [29.5, 196.2, 362.9];
var panelW = 224.4, panelH = 144;

var chart = echarts.init(document.getElementById('chart'), null, { renderer: 'canvas' });

var grid = [], xAxis = [], yAxis = [], series = [], graphic = [];

function pairs(arr) {
    return arr.map(function (v, i) { return [i, v]; });
}

// ribbon between lo and hi, drawn once as one polygon through the axis scales
function ribbon(xi, yi, lo, hi, color) {
    return {
        type: 'custom', xAxisIndex: xi, yAxisIndex: yi, silent: true,
        data: lo.map(function (v, i) { return [i, v, hi[i]]; }),
        encode: { x: 0, y: [1, 2] },
        renderItem: function (params, api) {
            if (params.dataIndex !== 0) return null;
            var pts = [], i;
            for (i = 0; i < hi.length; i++) pts.push(api.coord([i, hi[i]]));
            for (i = lo.length - 1; i >= 0; i--) pts.push(api.coord([i, lo[i]]));
            return { type: 'polygon', shape: { points: pts }, style: { fill: color } };
        }
    };
}

panels.forEach(function (p, k) {
    var r = Math.floor(k / 3), c = k % 3;
    grid.push({ left: colLeft[c], top: rowTop[r], width: panelW, height: panelH });

    // major / minor vertical grid
    xAxis.push({
        type: 'value', gridIndex: k, min: -5, max: 105,
        axisLine: { show: false },
        axisTick: { show: false, customValues: weekTicks },
        axisLabel: {
            show: r === 2, customValues: weekTicks, rotate: 45, margin: 4,
            fontSize: 9, color: '#4d4d4d', fontFamily: font,
            formatter: function (v) { return tickLabels[weekTicks.indexOf(v)]; }
        },
        splitLine: { show: true, lineStyle: { color: '#ebebeb', width: 1 } }
    });
    xAxis.push({
        type: 'value', gridIndex: k, min: -5, max: 105,
        axisLine: { show: false },
        axisTick: { show: false, customValues: weekMinor },
        axisLabel: { show: false },
        splitLine: { show: true, lineStyle: { color: '#f4f4f4', width: 1 } }
    });
    yAxis.push({
        type: 'value', gridIndex: k, min: -0.33, max: 6.96,
        axisLine: { show: false },
        axisTick: { show: false, customValues: yTicks },
        axisLabel: { show: c === 0, customValues: yTicks, margin: 5, fontSize: 9, color: '#4d4d4d', fontFamily: font },
        splitLine: { show: true, lineStyle: { color: '#ebebeb', width: 1 } }
    });
    yAxis.push({
        type: 'value', gridIndex: k, min: -0.33, max: 6.96,
        axisLine: { show: false },
        axisTick: { show: false, customValues: yMinor },
        axisLabel: { show: false },
        splitLine: { show: true, lineStyle: { color: '#f4f4f4', width: 1 } }
    });

    var xi = 2 * k, yi = 2 * k;
    series.push(ribbon(xi, yi, p.lo95, p.hi95, '#e2e2fd'));
    series.push(ribbon(xi, yi, p.lo50, p.hi50, '#9b9bf7'));
    series.push({
        type: 'line', xAxisIndex: xi, yAxisIndex: yi,
        data: pairs(p.med), symbol: 'none', silent: true,
        lineStyle: { color: '#0c0c4c', width: 2.5 },
        markLine: {
            silent: true, symbol: 'none', label: { show: false },
            lineStyle: { color: '#3a3a3a', type: [3, 3], width: 0.9 },
            data: waveBreaks.map(function (x) { return { xAxis: x }; })
        }
    });

    graphic.push({
        type: 'text', x: colLeft[c] + panelW / 2, y: rowTop[r] - 8,
        style: { text: p.name, align: 'center', verticalAlign: 'middle', fontSize: 11, fill: '#1a1a1a', fontFamily: font }
    });
});

graphic.push({
    type: 'text', x: 5, y: 7,
    style: { text: 'Infectious period (days)', align: 'left', verticalAlign: 'middle', fontSize: 12.5, fill: '#1a1a1a', fontFamily: font }
});
graphic.push({
    type: 'text', x: 364, y: 546,
    style: { text: 'Week start (mm/dd/yy)', align: 'center', verticalAlign: 'middle', fontSize: 10.5, fill: '#1a1a1a', fontFamily: font }
});
graphic.push({
    type: 'text', x: 7, y: 268, rotation: Math.PI / 2,
    style: { text: 'Posterior estimates (median, 50% and 95% CrIs)', align: 'center', verticalAlign: 'middle', fontSize: 10.5, fill: '#1a1a1a', fontFamily: font }
});

var option = {
    backgroundColor: '#ffffff',
    animation: false,
    grid: grid,
    xAxis: xAxis,
    yAxis: yAxis,
    series: series,
    graphic: graphic
};

if (option && typeof option === 'object') {
    chart.setOption(option);
}
</script>
</body>
</html>
